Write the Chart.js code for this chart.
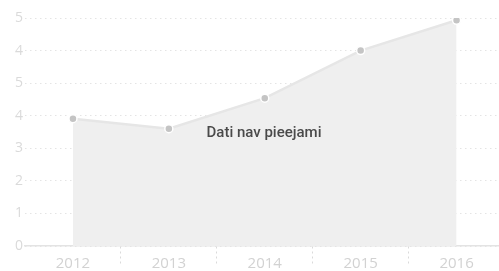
<!DOCTYPE html>
<html>
<head>
<meta charset="utf-8">
<script src="https://cdn.jsdelivr.net/npm/chart.js@4.4.1/dist/chart.umd.min.js"></script>
<style>
  html, body { margin: 0; padding: 0; background: #fff; overflow: hidden; width: 499px; height: 271px; }
  canvas { display: block; }
</style>
</head>
<body>
<canvas id="c" width="510" height="271"></canvas>
<script>
const categories = ['2012', '2013', '2014', '2015', '2016'];
const seriesValues = [3.91, 3.6, 4.54, 6.0, 6.93];
const yTickLabels = ['0', '1', '2', '3', '4', '5', '4', '5'];
const noDataText = 'Dati nav pieejami';

const centerText = {
  id: 'centerText',
  afterDraw(chart) {
    const a = chart.chartArea;
    const ctx = chart.ctx;
    ctx.save();
    ctx.font = '500 15px Roboto, "Noto Sans", sans-serif';
    ctx.fillStyle = '#4a4a4a';
    ctx.textAlign = 'center';
    ctx.textBaseline = 'middle';
    ctx.fillText(noDataText, 264, (a.top + a.bottom) / 2 + 1);
    ctx.restore();
  }
};

new Chart(document.getElementById('c'), {
  type: 'line',
  data: {
    labels: categories,
    datasets: [{
      data: seriesValues,
      fill: 'origin',
      backgroundColor: '#efefef',
      borderColor: '#e6e6e6',
      borderWidth: 2.5,
      tension: 0,
      pointRadius: 4,
      pointBackgroundColor: '#c4c4c4',
      pointBorderColor: '#ffffff',
      pointBorderWidth: 1.5
    }]
  },
  options: {
    responsive: false,
    maintainAspectRatio: false,
    animation: false,
    layout: { padding: { top: 18, right: 0, left: 0, bottom: 0 } },
    plugins: { legend: { display: false }, tooltip: { enabled: false } },
    scales: {
      x: {
        offset: true,
        grid: {
          offset: true,
          drawOnChartArea: false,
          drawTicks: true,
          tickLength: 18,
          tickColor: (ctx) => (ctx.index === 0 || ctx.index === categories.length) ? 'rgba(0,0,0,0)' : '#dadada',
          tickBorderDash: [2, 3],
          tickWidth: 1
        },
        border: { display: true, color: '#e3e3e3', width: 1.5 },
        ticks: {
          color: '#d2d2d2',
          font: { family: '"Open Sans", sans-serif', size: 15 },
          padding: -9,
          maxRotation: 0,
          autoSkip: false
        },
        afterFit(scale) { scale.height = 25; }
      },
      y: {
        min: 0,
        max: 7,
        grid: {
          color: '#e4e4e4',
          borderDash: [1.5, 3.5],
          lineWidth: 1,
          drawTicks: false
        },
        border: { display: false, dash: [1.5, 3.5] },
        ticks: {
          stepSize: 1,
          color: '#dadada',
          font: { family: '"Open Sans", sans-serif', size: 14 },
          padding: 2,
          callback: (v) => yTickLabels[v]
        },
        afterFit(scale) { scale.width = 25; }
      }
    }
  },
  plugins: [centerText]
});
</script>
</body>
</html>
